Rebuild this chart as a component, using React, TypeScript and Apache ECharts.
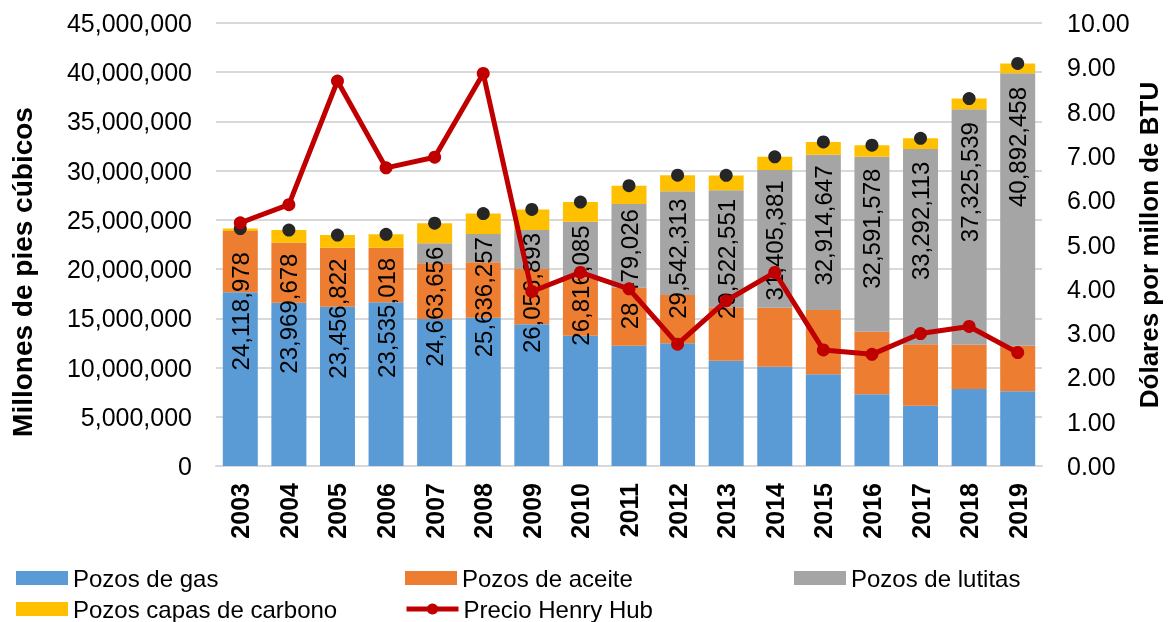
import React, { useEffect, useRef } from "react";
import * as echarts from "echarts";

const years = ["2003", "2004", "2005", "2006", "2007", "2008", "2009", "2010", "2011", "2012", "2013", "2014", "2015", "2016", "2017", "2018", "2019"];
const gasWells = [17640000, 16590000, 16180000, 16630000, 14930000, 15070000, 14390000, 13240000, 12220000, 12460000, 10700000, 10090000, 9310000, 7280000, 6130000, 7820000, 7590000];
const oilWells = [6230000, 6100000, 6000000, 5550000, 5660000, 5620000, 5620000, 5840000, 5890000, 4910000, 5380000, 5990000, 6540000, 6360000, 6230000, 4500000, 4630000];
const shaleWells = [0, 0, 0, 0, 2030000, 2880000, 3960000, 5740000, 8510000, 10530000, 11920000, 13990000, 15770000, 17780000, 19840000, 23910000, 27670000];
const coalbedWells = [250000, 1280000, 1280000, 1360000, 2040000, 2070000, 2090000, 2000000, 1860000, 1640000, 1520000, 1340000, 1290000, 1170000, 1090000, 1100000, 1000000];
const totals = [24118978, 23969678, 23456822, 23535018, 24663656, 25636257, 26056893, 26816085, 28479026, 29542313, 29522551, 31405381, 32914647, 32591578, 33292113, 37325539, 40892458];
const henryHub = [5.49, 5.9, 8.69, 6.73, 6.97, 8.86, 3.94, 4.37, 4.0, 2.75, 3.73, 4.37, 2.62, 2.52, 2.99, 3.15, 2.56];

const FONT = '"Liberation Sans", Arial, sans-serif';

export default function App() {
  const ref = useRef<HTMLDivElement>(null);
  useEffect(() => {
    if (!ref.current) return;
    const chart = echarts.init(ref.current, null, { renderer: "svg" });
    const legendBase = (name: string, left: number, top: number, isLine = false) => ({
      left,
      top,
      padding: 0,
      data: [name],
      icon: isLine ? undefined : "rect",
      itemWidth: 52,
      itemHeight: 14,
      itemGap: 10,
      lineStyle: isLine ? { width: 5, color: "#C00000" } : undefined,
      textStyle: { fontSize: 24, color: "#000", fontFamily: FONT, lineHeight: 26 },
    });
    chart.setOption({
      animation: false,
      textStyle: { fontFamily: FONT },
      grid: { left: 216, right: 127, top: 23, bottom: 156 },
      legend: [
        legendBase("Pozos de gas", 16, 565),
        legendBase("Pozos de aceite", 405, 565),
        legendBase("Pozos de lutitas", 794, 565),
        legendBase("Pozos capas de carbono", 16, 596),
        legendBase("Precio Henry Hub", 404, 596, true),
      ],
      xAxis: {
        type: "category",
        data: years,
        axisLine: { lineStyle: { color: "#D9D9D9", width: 2 } },
        axisTick: { show: false },
        axisLabel: { rotate: 90, fontSize: 25, fontWeight: "bold", color: "#000", margin: 17, fontFamily: FONT },
      },
      yAxis: [
        {
          type: "value",
          min: 0,
          max: 45000000,
          interval: 5000000,
          axisLine: { show: false },
          axisTick: { show: false },
          splitLine: { lineStyle: { color: "#D9D9D9", width: 2 } },
          axisLabel: {
            fontSize: 25,
            color: "#000",
            margin: 24,
            fontFamily: FONT,
            formatter: (v: number) => v.toLocaleString("en-US"),
          },
        },
        {
          type: "value",
          min: 0,
          max: 10,
          interval: 1,
          axisLine: { show: false },
          axisTick: { show: false },
          splitLine: { show: false },
          axisLabel: {
            fontSize: 25,
            color: "#000",
            margin: 25,
            fontFamily: FONT,
            formatter: (v: number) => v.toFixed(2),
          },
        },
      ],
      series: [
        { name: "Pozos de gas", type: "bar", stack: "t", data: gasWells, barWidth: 35, itemStyle: { color: "#5B9BD5" }, z: 2 },
        { name: "Pozos de aceite", type: "bar", stack: "t", data: oilWells, barWidth: 35, itemStyle: { color: "#ED7D31" }, z: 2 },
        { name: "Pozos de lutitas", type: "bar", stack: "t", data: shaleWells, barWidth: 35, itemStyle: { color: "#A5A5A5" }, z: 2 },
        { name: "Pozos capas de carbono", type: "bar", stack: "t", data: coalbedWells, barWidth: 35, itemStyle: { color: "#FFC000" }, z: 2 },
        {
          name: "Total",
          type: "scatter",
          data: totals,
          symbol: "circle",
          symbolSize: 13,
          itemStyle: { color: "#262626", opacity: 1 },
          z: 3,
          label: {
            show: true,
            position: "bottom",
            distance: 17,
            rotate: 90,
            align: "right",
            verticalAlign: "middle",
            fontSize: 24,
            color: "#000",
            fontFamily: FONT,
            formatter: (p: any) => Number(p.value).toLocaleString("en-US"),
          },
        },
        {
          name: "Precio Henry Hub",
          type: "line",
          yAxisIndex: 1,
          data: henryHub,
          symbol: "circle",
          symbolSize: 13,
          lineStyle: { color: "#C00000", width: 5 },
          itemStyle: { color: "#C00000" },
          z: 10,
        },
      ],
      graphic: [
        {
          type: "text",
          x: 22,
          y: 272,
          rotation: Math.PI / 2,
          style: {
            text: "Millones de pies cúbicos",
            font: 'bold 28px "Liberation Sans", Arial, sans-serif',
            fill: "#000",
            align: "center",
            verticalAlign: "middle",
          },
        },
        {
          type: "text",
          x: 1149,
          y: 245,
          rotation: Math.PI / 2,
          style: {
            text: "Dólares por millon de BTU",
            font: 'bold 26px "Liberation Sans", Arial, sans-serif',
            fill: "#000",
            align: "center",
            verticalAlign: "middle",
          },
        },
      ],
    });
    return () => chart.dispose();
  }, []);
  return <div ref={ref} style={{ position: "fixed", left: 0, top: 0, width: 1169, height: 622 }} />;
}
